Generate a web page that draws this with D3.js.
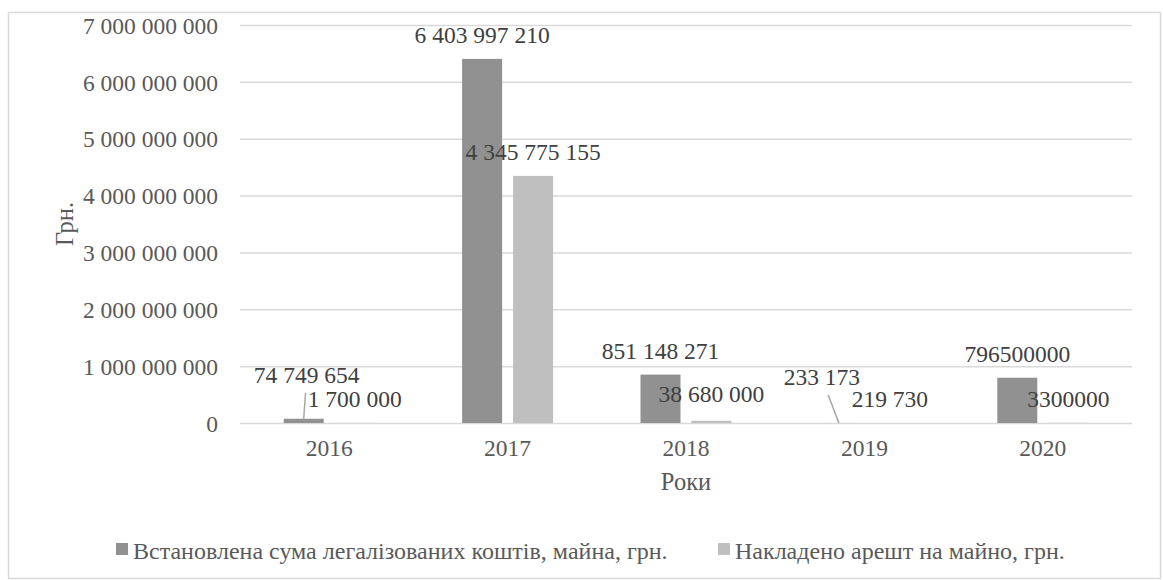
<!DOCTYPE html>
<meta charset="utf-8">
<style>
body { margin: 0; background: #fff; }
svg, svg text { font-family: "Liberation Serif", "Times New Roman", serif; }
.grid line { stroke: #d9d9d9; stroke-width: 1.5px; }
.tick text { fill: #595959; font-size: 23.5px; }
.label { fill: #404040; font-size: 23.5px; }
.title { fill: #595959; font-size: 24.5px; }
.legend text { fill: #595959; font-size: 24px; }
</style>
<svg width="1163" height="580"></svg>
<script src="https://cdnjs.cloudflare.com/ajax/libs/d3/7.8.5/d3.min.js"></script>
<script>
// years on the x axis
var years = ["2016", "2017", "2018", "2019", "2020"];
// the two series, in hryvnias
var seriesNames = ["Встановлена сума легалізованих коштів, майна, грн.", "Накладено арешт на майно, грн."];
var legalized = [74749654, 6403997210, 851148271, 233173, 796500000];
var arrested = [1700000, 4345775155, 38680000, 219730, 3300000];
// data labels as printed on the chart
var legalizedLabels = ["74 749 654", "6 403 997 210", "851 148 271", "233 173", "796500000"];
var arrestedLabels = ["1 700 000", "4 345 775 155", "38 680 000", "219 730", "3300000"];
var yTicks = [0, 1e9, 2e9, 3e9, 4e9, 5e9, 6e9, 7e9];
var yTickLabels = ["0", "1 000 000 000", "2 000 000 000", "3 000 000 000", "4 000 000 000", "5 000 000 000", "6 000 000 000", "7 000 000 000"];

var colors = ["#919191", "#bfbfbf"];
// labels that were dragged away from the bar in the original (px), they get leader lines
var labelMoves = [
  [[3, -20], [0, 0], [0, 0], [-17, -22], [0, 0]],
  [[0, 0], [0, 0], [0, -3], [0, 0], [0, 0]]
];

var svg = d3.select("svg"),
    margin = {top: 25, right: 31, bottom: 157, left: 240},
    width = +svg.attr("width") - margin.left - margin.right,
    height = +svg.attr("height") - margin.top - margin.bottom;

// chart border
svg.append("rect")
    .attr("x", 8.5).attr("y", 12.5)
    .attr("width", 1152).attr("height", 566)
    .attr("fill", "#fff")
    .attr("stroke", "#d9d9d9")
    .attr("stroke-width", 1.5);

var g = svg.append("g").attr("transform", "translate(" + margin.left + "," + margin.top + ")");

var x0 = d3.scaleBand().domain(years).range([0, width]);
var groupW = x0.bandwidth() * 0.51;
var x1 = d3.scaleBand().domain([0, 1]).range([0, groupW]).paddingInner(0.2157);
var y = d3.scaleLinear().domain([0, 7e9]).range([height, 0]);

// gridlines + y labels
var yAxis = g.append("g")
    .attr("class", "grid")
    .call(d3.axisLeft(y)
      .tickValues(yTicks)
      .tickSize(-width)
      .tickPadding(22)
      .tickFormat(function(d, i) { return yTickLabels[i]; }))
    .attr("font-family", null)
    .attr("font-size", null);
yAxis.select(".domain").remove();
yAxis.selectAll(".tick line").attr("x1", 0);
yAxis.selectAll(".tick text").attr("dy", "0.35em");

// x labels
var xAxis = g.append("g")
    .attr("transform", "translate(0," + height + ")")
    .call(d3.axisBottom(x0).tickSize(0).tickPadding(16))
    .attr("font-family", null)
    .attr("font-size", null);
xAxis.select(".domain").remove();

var series = [legalized, arrested];
var labels = [legalizedLabels, arrestedLabels];

function barX(s, i) {
  return x0(years[i]) + (x0.bandwidth() - groupW) / 2 + x1(s);
}

series.forEach(function(vals, s) {
  g.append("g").selectAll("rect")
    .data(vals)
    .enter().append("rect")
      .attr("x", function(d, i) { return barX(s, i); })
      .attr("y", function(d) { return y(d); })
      .attr("width", x1.bandwidth())
      .attr("height", function(d) { return height - y(d); })
      .attr("fill", colors[s]);
});

// data labels
series.forEach(function(vals, s) {
  vals.forEach(function(d, i) {
    var cx = barX(s, i) + x1.bandwidth() / 2,
        mv = labelMoves[s][i],
        lx = cx + mv[0],
        ly = y(d) - 16 + mv[1];
    if (mv[0] !== 0 || mv[1] < -10) {
      g.append("line")
        .attr("x1", lx + (cx - lx) * 0.37)
        .attr("y1", ly + 10)
        .attr("x2", cx)
        .attr("y2", y(d))
        .attr("stroke", "#a6a6a6")
        .attr("stroke-width", 1.5);
    }
    g.append("text")
      .attr("class", "label")
      .attr("x", lx)
      .attr("y", ly)
      .attr("text-anchor", "middle")
      .text(labels[s][i]);
  });
});

// axis titles
g.append("text")
  .attr("class", "title")
  .attr("x", width / 2)
  .attr("y", height + 67)
  .attr("text-anchor", "middle")
  .text("Роки");

svg.append("text")
  .attr("class", "title")
  .attr("transform", "translate(73," + (margin.top + height / 2) + ") rotate(-90)")
  .attr("text-anchor", "middle")
  .text("Грн.");

// legend
var legend = svg.append("g").attr("class", "legend");
var lx = [116, 718];
seriesNames.forEach(function(name, s) {
  legend.append("rect")
    .attr("x", lx[s]).attr("y", 543)
    .attr("width", 12).attr("height", 12)
    .attr("fill", colors[s]);
  legend.append("text")
    .attr("x", lx[s] + 17)
    .attr("y", 559)
    .text(name);
});
</script>
